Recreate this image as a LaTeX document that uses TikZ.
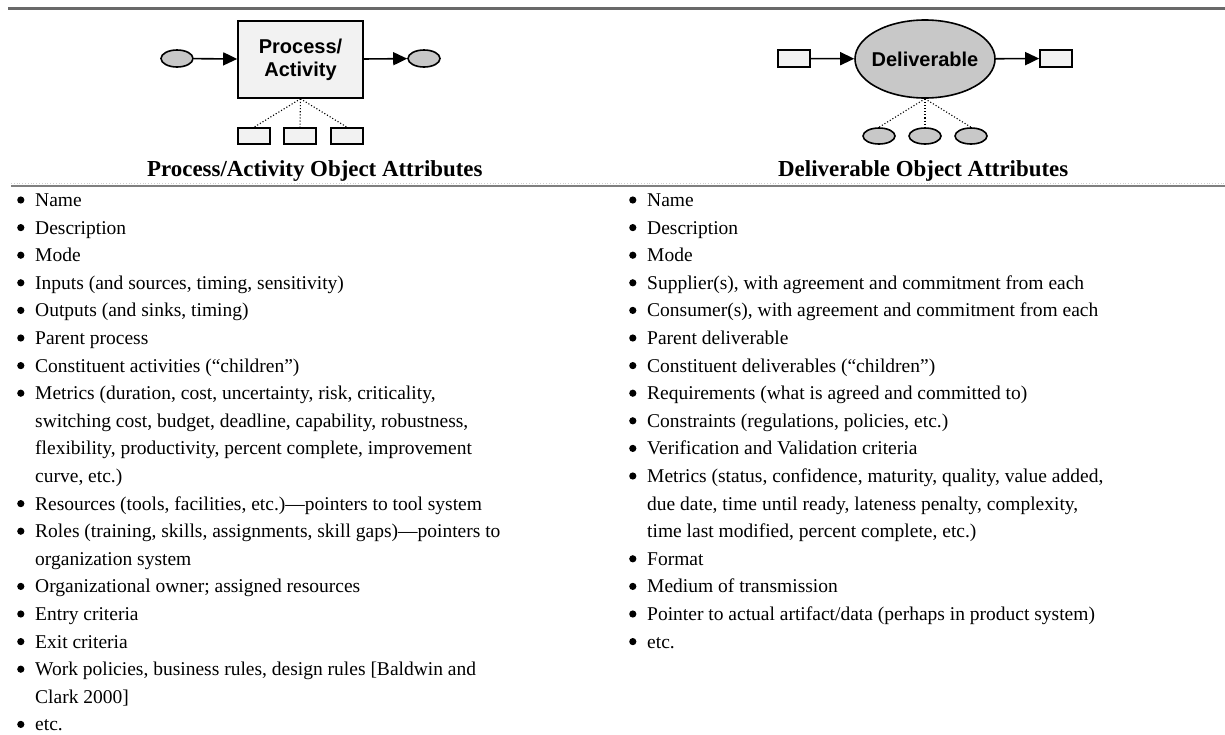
\documentclass[tikz,border=0pt]{standalone}
\usepackage{fontspec}
\setmainfont{Liberation Serif}
\newfontfamily\diagfont{Liberation Sans}
\usetikzlibrary{arrows.meta,shapes.geometric}

\definecolor{boxfill}{RGB}{242,242,242}
\definecolor{ellfill}{RGB}{200,200,200}
\definecolor{rulegray}{RGB}{105,105,105}
\definecolor{sepgray}{RGB}{128,128,128}
\definecolor{faintgray}{RGB}{205,205,205}

% round bullet of an attribute list
\newcommand{\bul}{\raisebox{2.9pt}{\tikz\fill[black] (0,0) circle (3.6pt);}}

\begin{document}
\begin{tikzpicture}[x=1pt,y=-1pt,
  outline/.style={draw=black, line width=1.6pt, inner sep=0pt},
  procbox/.style={outline, rectangle, fill=boxfill, minimum width=125pt, minimum height=77pt,
    font=\diagfont\bfseries\fontsize{20}{23}\selectfont, align=center},
  delell/.style={outline, ellipse, fill=ellfill, minimum width=140pt, minimum height=78pt},
  smallell/.style={outline, ellipse, fill=ellfill, minimum width=32pt, minimum height=17pt},
  smallbox/.style={outline, rectangle, fill=boxfill, minimum width=32pt, minimum height=16pt},
  flow/.style={line width=1.6pt, -{Triangle[length=14pt,width=13pt]}},
  part/.style={line width=1.1pt, dotted},
  header/.style={anchor=base west, inner sep=0pt, font=\bfseries\fontsize{22.9}{26}\selectfont},
  attrlist/.style={anchor=base west, inner sep=0pt, font=\fontsize{19.5}{27.6}\selectfont}
]
\useasboundingbox (0,0) rectangle (1225,734);
\clip (0,0) rectangle (1225,734);

% rules
\draw[line width=3pt, rulegray] (8,8) -- (1225,8);
\draw[line width=0.8pt, faintgray, dotted] (11,183) -- (1225,183);
\draw[line width=2pt, sepgray] (11,185.5) -- (1225,185.5);

% process / activity object
\node[procbox] (proc) at (300.5,59.5) {Process/\\Activity};
\node[smallell] (pin) at (177,58.5) {};
\node[smallell] (pout) at (424,58.5) {};
\draw[flow] (pin) -- (proc);
\draw[flow] (proc) -- (pout);
\node[smallbox] (pa) at (254,136) {};
\node[smallbox] (pb) at (300,136) {};
\node[smallbox] (pc) at (347,136) {};
\draw[part] (proc.south) -- (pa.north);
\draw[part] (proc.south) -- (pb.north);
\draw[part] (proc.south) -- (pc.north);

% deliverable object
\node[delell, label={[font=\diagfont\bfseries\fontsize{20}{23}\selectfont]center:Deliverable}] (del) at (925,59) {};
\node[smallbox, minimum height=17pt] (din) at (794,58.5) {};
\node[smallbox, minimum height=17pt] (dout) at (1056,58.5) {};
\draw[flow] (din) -- (del);
\draw[flow] (del) -- (dout);
\node[smallell, minimum height=16pt] (da) at (879,136) {};
\node[smallell, minimum height=16pt] (db) at (925,136) {};
\node[smallell, minimum height=16pt] (dc) at (971,136) {};
\draw[part] (del.south) -- (da.north);
\draw[part] (del.south) -- (db.north);
\draw[part] (del.south) -- (dc.north);

% column headings
\node[header] (hproc) at (147,176) {Process/Activity Object Attributes};
\node[header] (hdel) at (778,176) {Deliverable Object Attributes};

% attribute lists
\node[attrlist] (lproc) at (17,206.5) {%
\begin{tabular}[t]{@{}p{18pt}@{}l@{}}
\bul & Name\\
\bul & Description\\
\bul & Mode\\
\bul & Inputs (and sources, timing, sensitivity)\\
\bul & Outputs (and sinks, timing)\\
\bul & Parent process\\
\bul & Constituent activities (“children”)\\
\bul & Metrics (duration, cost, uncertainty, risk, criticality,\\
     & switching cost, budget, deadline, capability, robustness,\\
     & flexibility, productivity, percent complete, improvement\\
     & curve, etc.)\\
\bul & Resources (tools, facilities, etc.)—pointers to tool system\\
\bul & Roles (training, skills, assignments, skill gaps)—pointers to\\
     & organization system\\
\bul & Organizational owner; assigned resources\\
\bul & Entry criteria\\
\bul & Exit criteria\\
\bul & Work policies, business rules, design rules [Baldwin and\\
     & Clark 2000]\\
\bul & etc.
\end{tabular}};

\node[attrlist] (ldel) at (629,206.5) {%
\begin{tabular}[t]{@{}p{18pt}@{}l@{}}
\bul & Name\\
\bul & Description\\
\bul & Mode\\
\bul & Supplier(s), with agreement and commitment from each\\
\bul & Consumer(s), with agreement and commitment from each\\
\bul & Parent deliverable\\
\bul & Constituent deliverables (“children”)\\
\bul & Requirements (what is agreed and committed to)\\
\bul & Constraints (regulations, policies, etc.)\\
\bul & Verification and Validation criteria\\
\bul & Metrics (status, confidence, maturity, quality, value added,\\
     & due date, time until ready, lateness penalty, complexity,\\
     & time last modified, percent complete, etc.)\\
\bul & Format\\
\bul & Medium of transmission\\
\bul & Pointer to actual artifact/data (perhaps in product system)\\
\bul & etc.
\end{tabular}};
\end{tikzpicture}
\end{document}
